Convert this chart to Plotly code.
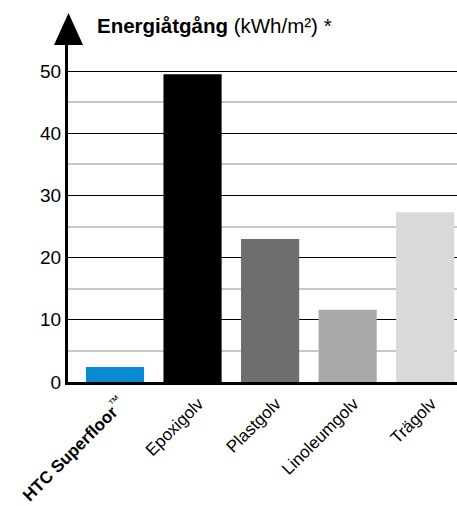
import plotly.graph_objects as go

categories = ["<b>HTC Superfloor</b><sup>™</sup>", "Epoxigolv", "Plastgolv", "Linoleumgolv", "Trägolv"]
values = [2.4, 49.5, 23.0, 11.6, 27.3]
colors = ["#0a8ad2", "#000000", "#6e6e6c", "#a9a9a8", "#d9d9d9"]
y_tick_step = 10
y_minor_step = 5

FONT = "Liberation Sans, Arial, Helvetica, sans-serif"

fig = go.Figure(go.Bar(
    x=list(range(len(categories))),
    y=values,
    marker=dict(color=colors, line=dict(width=0)),
    width=0.75,
    hoverinfo="skip",
))

fig.update_layout(
    width=457, height=506,
    margin=dict(l=68, r=0, t=45, b=124),
    paper_bgcolor="white", plot_bgcolor="white",
    showlegend=False,
    font=dict(family=FONT, color="#000000"),
    xaxis=dict(
        range=[-0.606, 4.41],
        tickmode="array",
        tickvals=list(range(len(categories))),
        ticktext=categories,
        tickangle=-45,
        tickfont=dict(size=17, family=FONT, color="#000"),
        ticklabelshift=6, ticklabelstandoff=2,
        showgrid=False, zeroline=False,
        showline=True, linecolor="#000", linewidth=3,
        ticks="",
        fixedrange=True,
    ),
    yaxis=dict(
        range=[0, 54.2],
        tickmode="linear", tick0=0, dtick=y_tick_step,
        tickfont=dict(size=19, family=FONT, color="#000"),
        showgrid=True, gridcolor="#000", gridwidth=1,
        zeroline=False,
        showline=True, linecolor="#000", linewidth=3,
        ticks="", ticklabelstandoff=0,
        minor=dict(tickmode="linear", tick0=0, dtick=y_minor_step, showgrid=True,
                   gridcolor="#c8c8c8", gridwidth=1.5, ticks=""),
        fixedrange=True,
    ),
    shapes=[
        dict(type="path", xref="paper", yref="paper",
             path="M -0.036 1.0 L 0.0386 1.0 L 0.0013 1.095 Z",
             fillcolor="#000", line=dict(width=0)),
    ],
    annotations=[
        dict(text="<b>Energiåtgång</b> (kWh/m²) *",
             xref="paper", yref="paper", x=0.069, y=1.059,
             xanchor="left", yanchor="middle", showarrow=False,
             font=dict(size=20.5, family=FONT, color="#000")),
    ],
)

fig.write_html("out.html", config={"displayModeBar": False},
               post_script="document.body.style.margin='0';document.body.style.padding='0';")
